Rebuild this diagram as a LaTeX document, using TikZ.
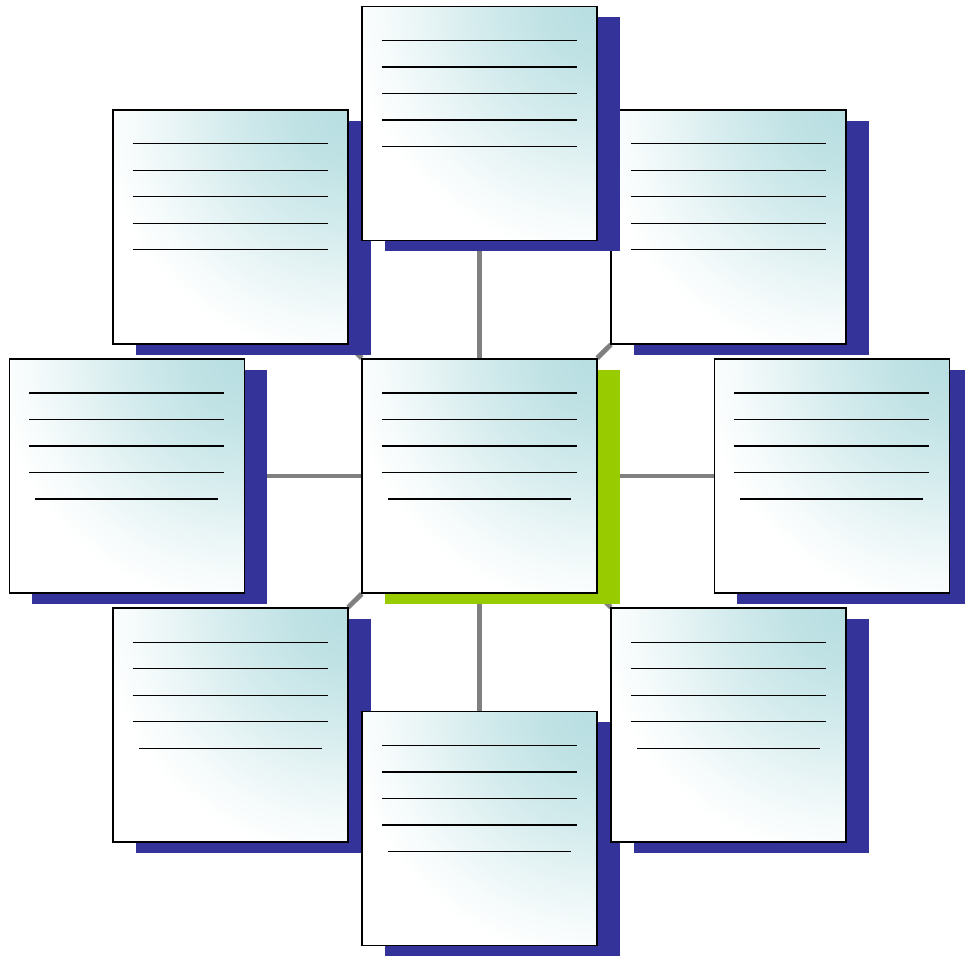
\documentclass[tikz,border=0pt]{standalone}
\usepackage{tikz}
\usetikzlibrary{shadows,backgrounds}

\definecolor{shadowblue}{HTML}{333399}
\definecolor{hubgreen}{HTML}{99CC00}
\definecolor{linkgray}{HTML}{808080}
\definecolor{noteteal}{HTML}{B7DEE1}

% glow from the upper right corner of each note
\pgfdeclareradialshading{notefade}{\pgfpointorigin}{color(0bp)=(noteteal); color(30bp)=(noteteal!88!white); color(67bp)=(noteteal!60!white); color(96bp)=(noteteal!34!white); color(120bp)=(noteteal!14!white); color(142bp)=(white); color(200bp)=(white)}

\begin{document}
\begin{tikzpicture}[
    rule/.style={line width=0.8pt, black},
    last rule/.store in=\lastrule, last rule=0.52cm,
    note/.style={rectangle, draw=black, line width=1pt, minimum width=4.7cm, minimum height=4.68cm, fill=white,
        drop shadow={shadow xshift=0.46cm, shadow yshift=-0.22cm, fill=#1, opacity=1},
        path picture={
            \node[inner sep=0pt, outer sep=0pt] at (path picture bounding box.north east) {\pgfuseshading{notefade}};
            \foreach \k in {0,...,3}
                \draw[rule] ([xshift=0.4cm, yshift=-0.68cm-\k*0.53cm]path picture bounding box.north west) -- ++(3.9cm,0);
            \draw[rule] ([xshift=\lastrule, yshift=-2.8cm]path picture bounding box.north west) -- ([xshift=-\lastrule, yshift=-2.8cm]path picture bounding box.north east);
        }},
    note/.default=shadowblue,
    full/.style={last rule=0.4cm},
    link/.style={draw=linkgray, line width=2.8pt}
]

\useasboundingbox (-9.59,-9.60) rectangle (9.71,9.52);

% Top row
\node[note, full] (NW) at (135:7.05) {};
\node[note, full] (NE) at (45:7.05) {};
\node[note, full] (N) at (90:7.05) {};

% Middle row
\node[note] (W) at (180:7.05) {};
\node[note=hubgreen] (C) at (0,0) {};
\node[note] (E) at (0:7.05) {};

% Bottom row
\node[note] (SW) at (225:7.05) {};
\node[note] (S) at (270:7.05) {};
\node[note] (SE) at (315:7.05) {};

% Links
\begin{scope}[on background layer]
\draw[link] (C) -- (N);
\draw[link] (C) -- (NE);
\draw[link] (C) -- (E);
\draw[link] (C) -- (SE);
\draw[link] (C) -- (S);
\draw[link] (C) -- (SW);
\draw[link] (C) -- (W);
\draw[link] (C) -- (NW);
\end{scope}

\end{tikzpicture}
\end{document}
